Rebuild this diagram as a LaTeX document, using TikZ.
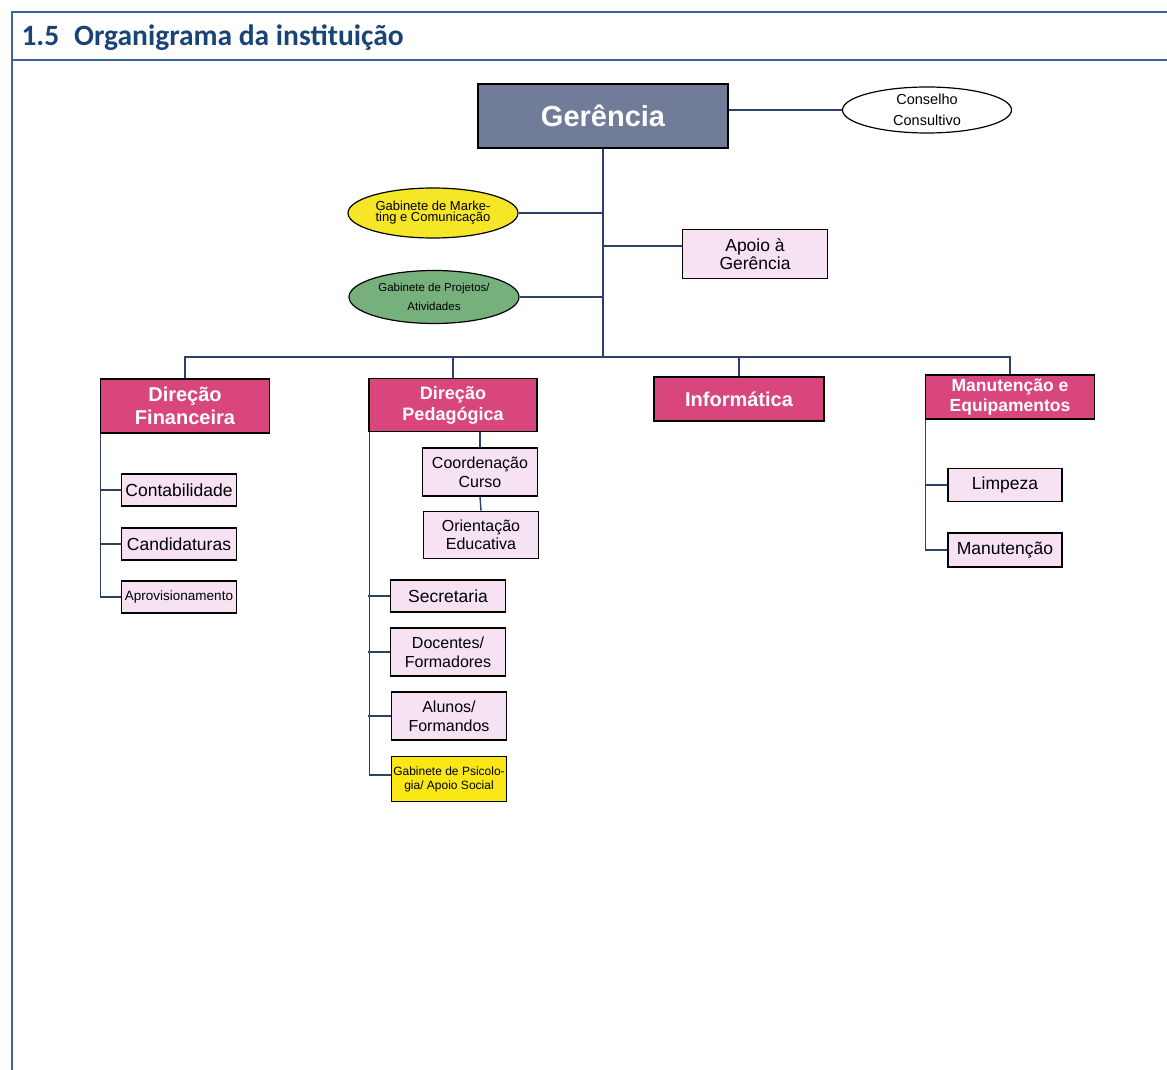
\documentclass[tikz,border=0pt]{standalone}
\usepackage{fontspec}
\setmainfont{Liberation Sans}
\newfontfamily\titlefont{Carlito}
\usetikzlibrary{shapes.geometric, positioning}

\definecolor{framecol}{RGB}{62,100,158}
\definecolor{titlecol}{RGB}{26,68,118}
\definecolor{linecol}{RGB}{44,64,104}
\definecolor{gerfill}{RGB}{112,124,152}
\definecolor{dirfill}{RGB}{217,70,126}
\definecolor{boxpink}{RGB}{246,226,242}
\definecolor{mktfill}{RGB}{245,230,40}
\definecolor{projfill}{RGB}{118,176,124}
\definecolor{psifill}{RGB}{250,232,22}

\begin{document}
\begin{tikzpicture}[
  x=1pt, y=-1pt,
  link/.style={draw=linecol, line width=1.4pt},
  frame/.style={draw=framecol, line width=1.8pt},
  topbox/.style={rectangle, draw=black, line width=1.6pt, fill=gerfill, text=white, minimum width=250, minimum height=64, font=\fontsize{29}{32}\selectfont\bfseries},
  dirbox/.style={rectangle, draw=black, line width=1.6pt, fill=dirfill, text=white, minimum width=169, align=center, inner sep=1pt},
  unit/.style={rectangle, draw=black, line width=1.6pt, fill=boxpink, minimum width=115, align=center, inner sep=1pt},
  oval/.style={ellipse, draw=black, line width=1.2pt, minimum width=170, minimum height=50, align=center, inner sep=0pt}
]
\useasboundingbox (0,0) rectangle (1167,1070);

% MOLDURA
\draw[frame] (1167,12) -- (12,12) -- (12,1070);
\draw[frame] (12,60) -- (1167,60);
\node[anchor=base west, text=titlecol, font=\titlefont\fontsize{29.5}{32}\selectfont\bfseries] (titulo) at (18,46) {1.5\hspace{0.5em}Organigrama da instituição};

% NODES
\node[topbox] (ger) at (603,116) {Gerência};
\node[oval, fill=white, minimum width=169, minimum height=46, font=\fontsize{14.5}{21}\selectfont] (cons) at (927,110) {Conselho\\Consultivo};
\node[oval, fill=mktfill, font=\fontsize{13}{11}\selectfont] (mkt) at (433,213) {Gabinete de Marke-\\ting e Comunicação};
\node[oval, fill=projfill, minimum height=53, font=\fontsize{11.5}{19}\selectfont] (proj) at (434,297) {Gabinete de Projetos/\\Atividades};
\node[unit, minimum width=145, minimum height=49, font=\fontsize{17.5}{15}\selectfont] (apoio) at (755,254) {Apoio à\\Gerência};

\node[dirbox, minimum height=54, font=\fontsize{20}{23}\selectfont\bfseries] (finan) at (185,406) {Direção\\Financeira};
\node[dirbox, minimum width=168, minimum height=53, font=\fontsize{18}{21}\selectfont\bfseries] (pedag) at (453,405) {Direção\\Pedagógica};
\node[dirbox, minimum width=170, minimum height=44, font=\fontsize{20}{23}\selectfont\bfseries] (info) at (739,399) {Informática};
\node[dirbox, minimum height=44, font=\fontsize{17.5}{20}\selectfont\bfseries] (manut) at (1010,397) {Manutenção e\\Equipamentos};

\node[unit, minimum height=32, font=\fontsize{17.5}{20}\selectfont] (conta) at (179,490) {Contabilidade};
\node[unit, minimum height=32, font=\fontsize{17.5}{20}\selectfont] (cand) at (179,544) {Candidaturas};
\node[unit, minimum height=32, font=\fontsize{13.5}{16}\selectfont] (aprov) at (179,597) {Aprovisionamento};

\node[unit, minimum height=48, font=\fontsize{16}{19}\selectfont] (coord) at (480,472) {Coordenação\\Curso};
\node[unit, minimum height=47, font=\fontsize{16}{18}\selectfont] (orient) at (481,535) {Orientação\\Educativa};
\node[unit, minimum height=32, font=\fontsize{17.5}{20}\selectfont] (secr) at (448,596) {Secretaria};
\node[unit, minimum height=48, font=\fontsize{16}{19}\selectfont] (doc) at (448,652) {Docentes/\\Formadores};
\node[unit, minimum height=48, font=\fontsize{16}{19}\selectfont] (alun) at (449,716) {Alunos/\\Formandos};
\node[unit, fill=psifill, minimum height=45, font=\fontsize{12}{14}\selectfont] (psico) at (449,779) {Gabinete de Psicolo-\\gia/ Apoio Social};

\node[unit, minimum width=114, minimum height=33, font=\fontsize{17.5}{20}\selectfont] (limp) at (1005,485) {Limpeza};
\node[unit, minimum width=114, minimum height=34, font=\fontsize{17.5}{20}\selectfont] (manu) at (1005,550) {Manutenção};

\coordinate (bus) at (603,357);

% LIGACOES
\draw[link] (cons.west -| ger.east) -- (cons.west);
\draw[link] (ger.south) -- (bus);
\draw[link] (mkt.east) -- (mkt.east -| ger.south);
\draw[link] (proj.east) -- (proj.east -| ger.south);
\draw[link] ([yshift=8pt]apoio.west) -- ([yshift=8pt]apoio.west -| ger.south);
\draw[link] (finan.north) |- (bus) -| (manut.north);
\draw[link] (pedag.north) -- (pedag.north |- bus);
\draw[link] (info.north) -- (info.north |- bus);

\draw[link] ([xshift=1pt]finan.south west) |- (aprov.west);
\draw[link] (conta.west) -- (conta.west -| finan.south west);
\draw[link] (cand.west) -- (cand.west -| finan.south west);

\draw[link] (coord.north |- pedag.south) -- (coord.north);
\draw[link] (coord.south) -- (orient.north);
\draw[link] ([xshift=1pt]pedag.south west) |- ([yshift=4pt]psico.west);
\draw[link] (secr.west) -- (secr.west -| pedag.south west);
\draw[link] (doc.west) -- (doc.west -| pedag.south west);
\draw[link] (alun.west) -- (alun.west -| pedag.south west);

\draw[link] ([xshift=1pt]manut.south west) |- (manu.west);
\draw[link] (limp.west) -- (limp.west -| manut.south west);

\end{tikzpicture}
\end{document}
